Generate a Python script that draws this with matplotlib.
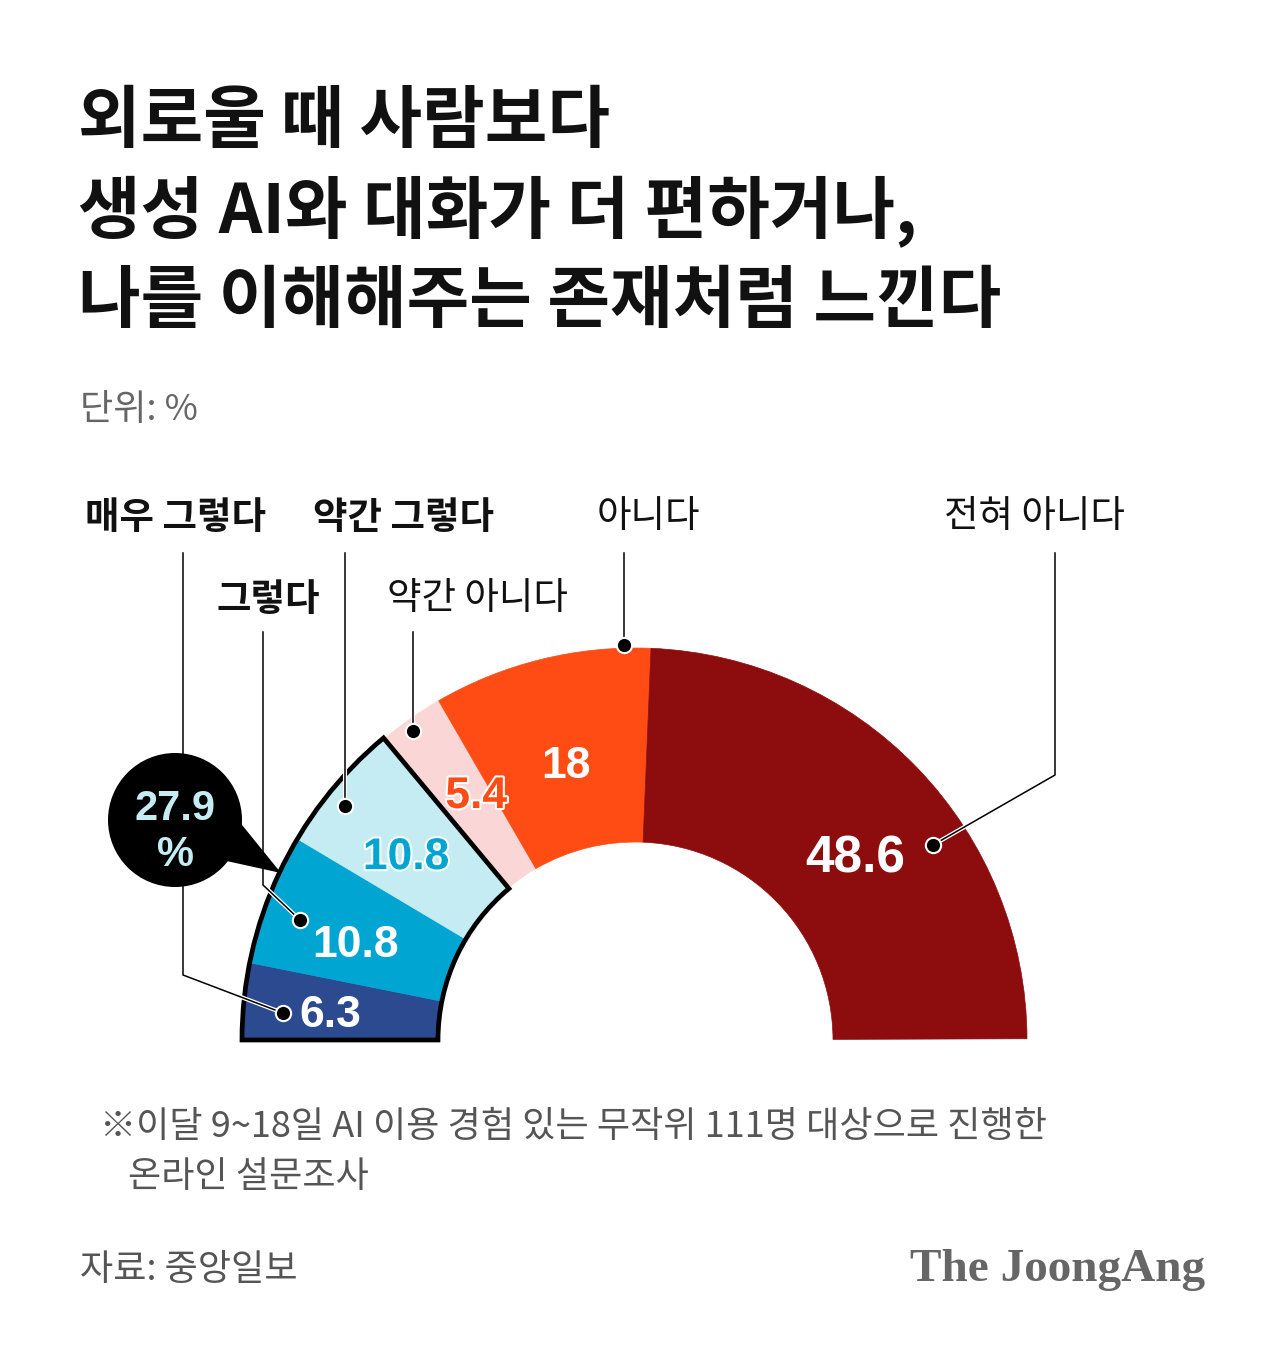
import numpy as np
import matplotlib.pyplot as plt
from matplotlib.patches import Wedge, Circle, Polygon
import matplotlib.patheffects as pe

plt.rcParams['font.family'] = ['Noto Sans CJK KR', 'DejaVu Sans']

# data
categories = ['매우 그렇다', '그렇다', '약간 그렇다', '약간 아니다', '아니다', '전혀 아니다']
values = [6.3, 10.8, 10.8, 5.4, 18, 48.6]
colors = ['#2b4a90', '#00a6d1', '#c5ecf2', '#fbd6d6', '#ff4b14', '#8d0d0f']
value_colors = ['white', 'white', '#00a6d1', '#ff4b14', 'white', 'white']
bold_label = [True, True, True, False, False, False]
n_positive = 3

title_lines = ['외로울 때 사람보다', '생성 AI와 대화가 더 편하거나,', '나를 이해해주는 존재처럼 느낀다']
unit = '단위: %'
note = ['※이달 9~18일 AI 이용 경험 있는 무작위 111명 대상으로 진행한', '온라인 설문조사']
source = '자료: 중앙일보'
brand = 'The JoongAng'

W, H = 1280, 1349
fig = plt.figure(figsize=(W / 100, H / 100), dpi=100)
ax = fig.add_axes([0, 0, 1, 1])
ax.set_xlim(0, W)
ax.set_ylim(H, 0)
ax.axis('off')

# half donut (y axis is flipped, so angles are negated)
cx, cy = 635, 1040
R, r = 392, 198
deg = 180 / 100
num_font = 'Liberation Sans'
# small nudges of value labels from the ring middle (pixels)
nudge = [(-6, 1), (-2, 8), (-3, 6), (13, -2), (2, 10), (0, 21)]

start = 180
for v, c, tc, (dx, dy) in zip(values, colors, value_colors, nudge):
    end = start - v * deg
    ax.add_patch(Wedge((cx, cy), R, -start, -end, width=R - r,
                       facecolor=c, edgecolor=c, lw=0.5, zorder=1))
    mid = np.radians((start + end) / 2)
    rad = 300 if v < 8 else 297
    tx = cx + rad * np.cos(mid) + dx
    ty = cy - rad * np.sin(mid) + dy
    big = v > 40
    t = ax.text(tx + (6 if big else 0), ty + (18 if big else 16), f'{v:g}', color=tc,
                family=num_font, weight='bold', fontsize=37 if big else 32,
                ha='center', va='baseline', zorder=5)
    if tc != 'white':
        t.set_path_effects([pe.withStroke(linewidth=3, foreground='white')])
    start = end

pos_sum = sum(values[:n_positive])
ax.add_patch(Wedge((cx, cy), R + 1, -180, -(180 - pos_sum * deg), width=R - r + 2,
                   fill=False, edgecolor='black', lw=3.4, joinstyle='miter', zorder=4))

# category labels with leader lines
label_xy = [(85, 517), (217, 599), (313, 517), (387, 599), (597, 517), (944, 517)]
leaders = [
    [(183, 553), (183, 975), (283, 1013)],
    [(263, 632), (263, 885), (300, 920)],
    [(345, 553), (345, 806)],
    [(413, 632), (413, 731)],
    [(624, 553), (624, 645)],
    [(1055, 553), (1055, 775), (933, 845)],
]
for name, (lx, ly), b, path in zip(categories, label_xy, bold_label, leaders):
    ax.text(lx, ly, name, fontsize=27, weight='bold' if b else 'normal',
            color='#111111', ha='left', va='center')
    xs = [p[0] for p in path]
    ys = [p[1] for p in path]
    ax.plot(xs, ys, color='black', lw=1.1, zorder=6,
            path_effects=[pe.Stroke(linewidth=3, foreground='white'), pe.Normal()])
    ax.plot(xs[-1], ys[-1], 'o', ms=11, mfc='black', mec='white', mew=1.5, zorder=7)

# bubble with positive share
ax.add_patch(Circle((175, 820), 67, facecolor='black', zorder=8))
ax.add_patch(Polygon([(238, 820), (222, 860), (281, 873)], closed=True,
                     facecolor='black', edgecolor='none', zorder=8))
ax.text(175, 820, f'{pos_sum:.1f}', color='#c5ecf2', family=num_font, weight='bold',
        fontsize=30, ha='center', va='baseline', zorder=9)
ax.text(175, 866, '%', color='#c5ecf2', family=num_font, weight='bold',
        fontsize=30, ha='center', va='baseline', zorder=9)

# title and texts
for i, line in enumerate(title_lines):
    ax.text(78, 122 + i * 90, line, fontsize=49, weight='heavy', color='#111111',
            ha='left', va='center')
ax.text(80, 410, unit, fontsize=26, color='#666666', ha='left', va='center')
ax.text(100, 1127, note[0], fontsize=26, color='#555555', ha='left', va='center')
ax.text(128, 1177, note[1], fontsize=26, color='#555555', ha='left', va='center')
ax.text(80, 1270, source, fontsize=26, color='#555555', ha='left', va='center')
ax.text(1205, 1270, brand, family='Liberation Serif', weight='bold', fontsize=34,
        color='#666666', ha='right', va='center')

fig.savefig('out.png', dpi=100, facecolor='white')
